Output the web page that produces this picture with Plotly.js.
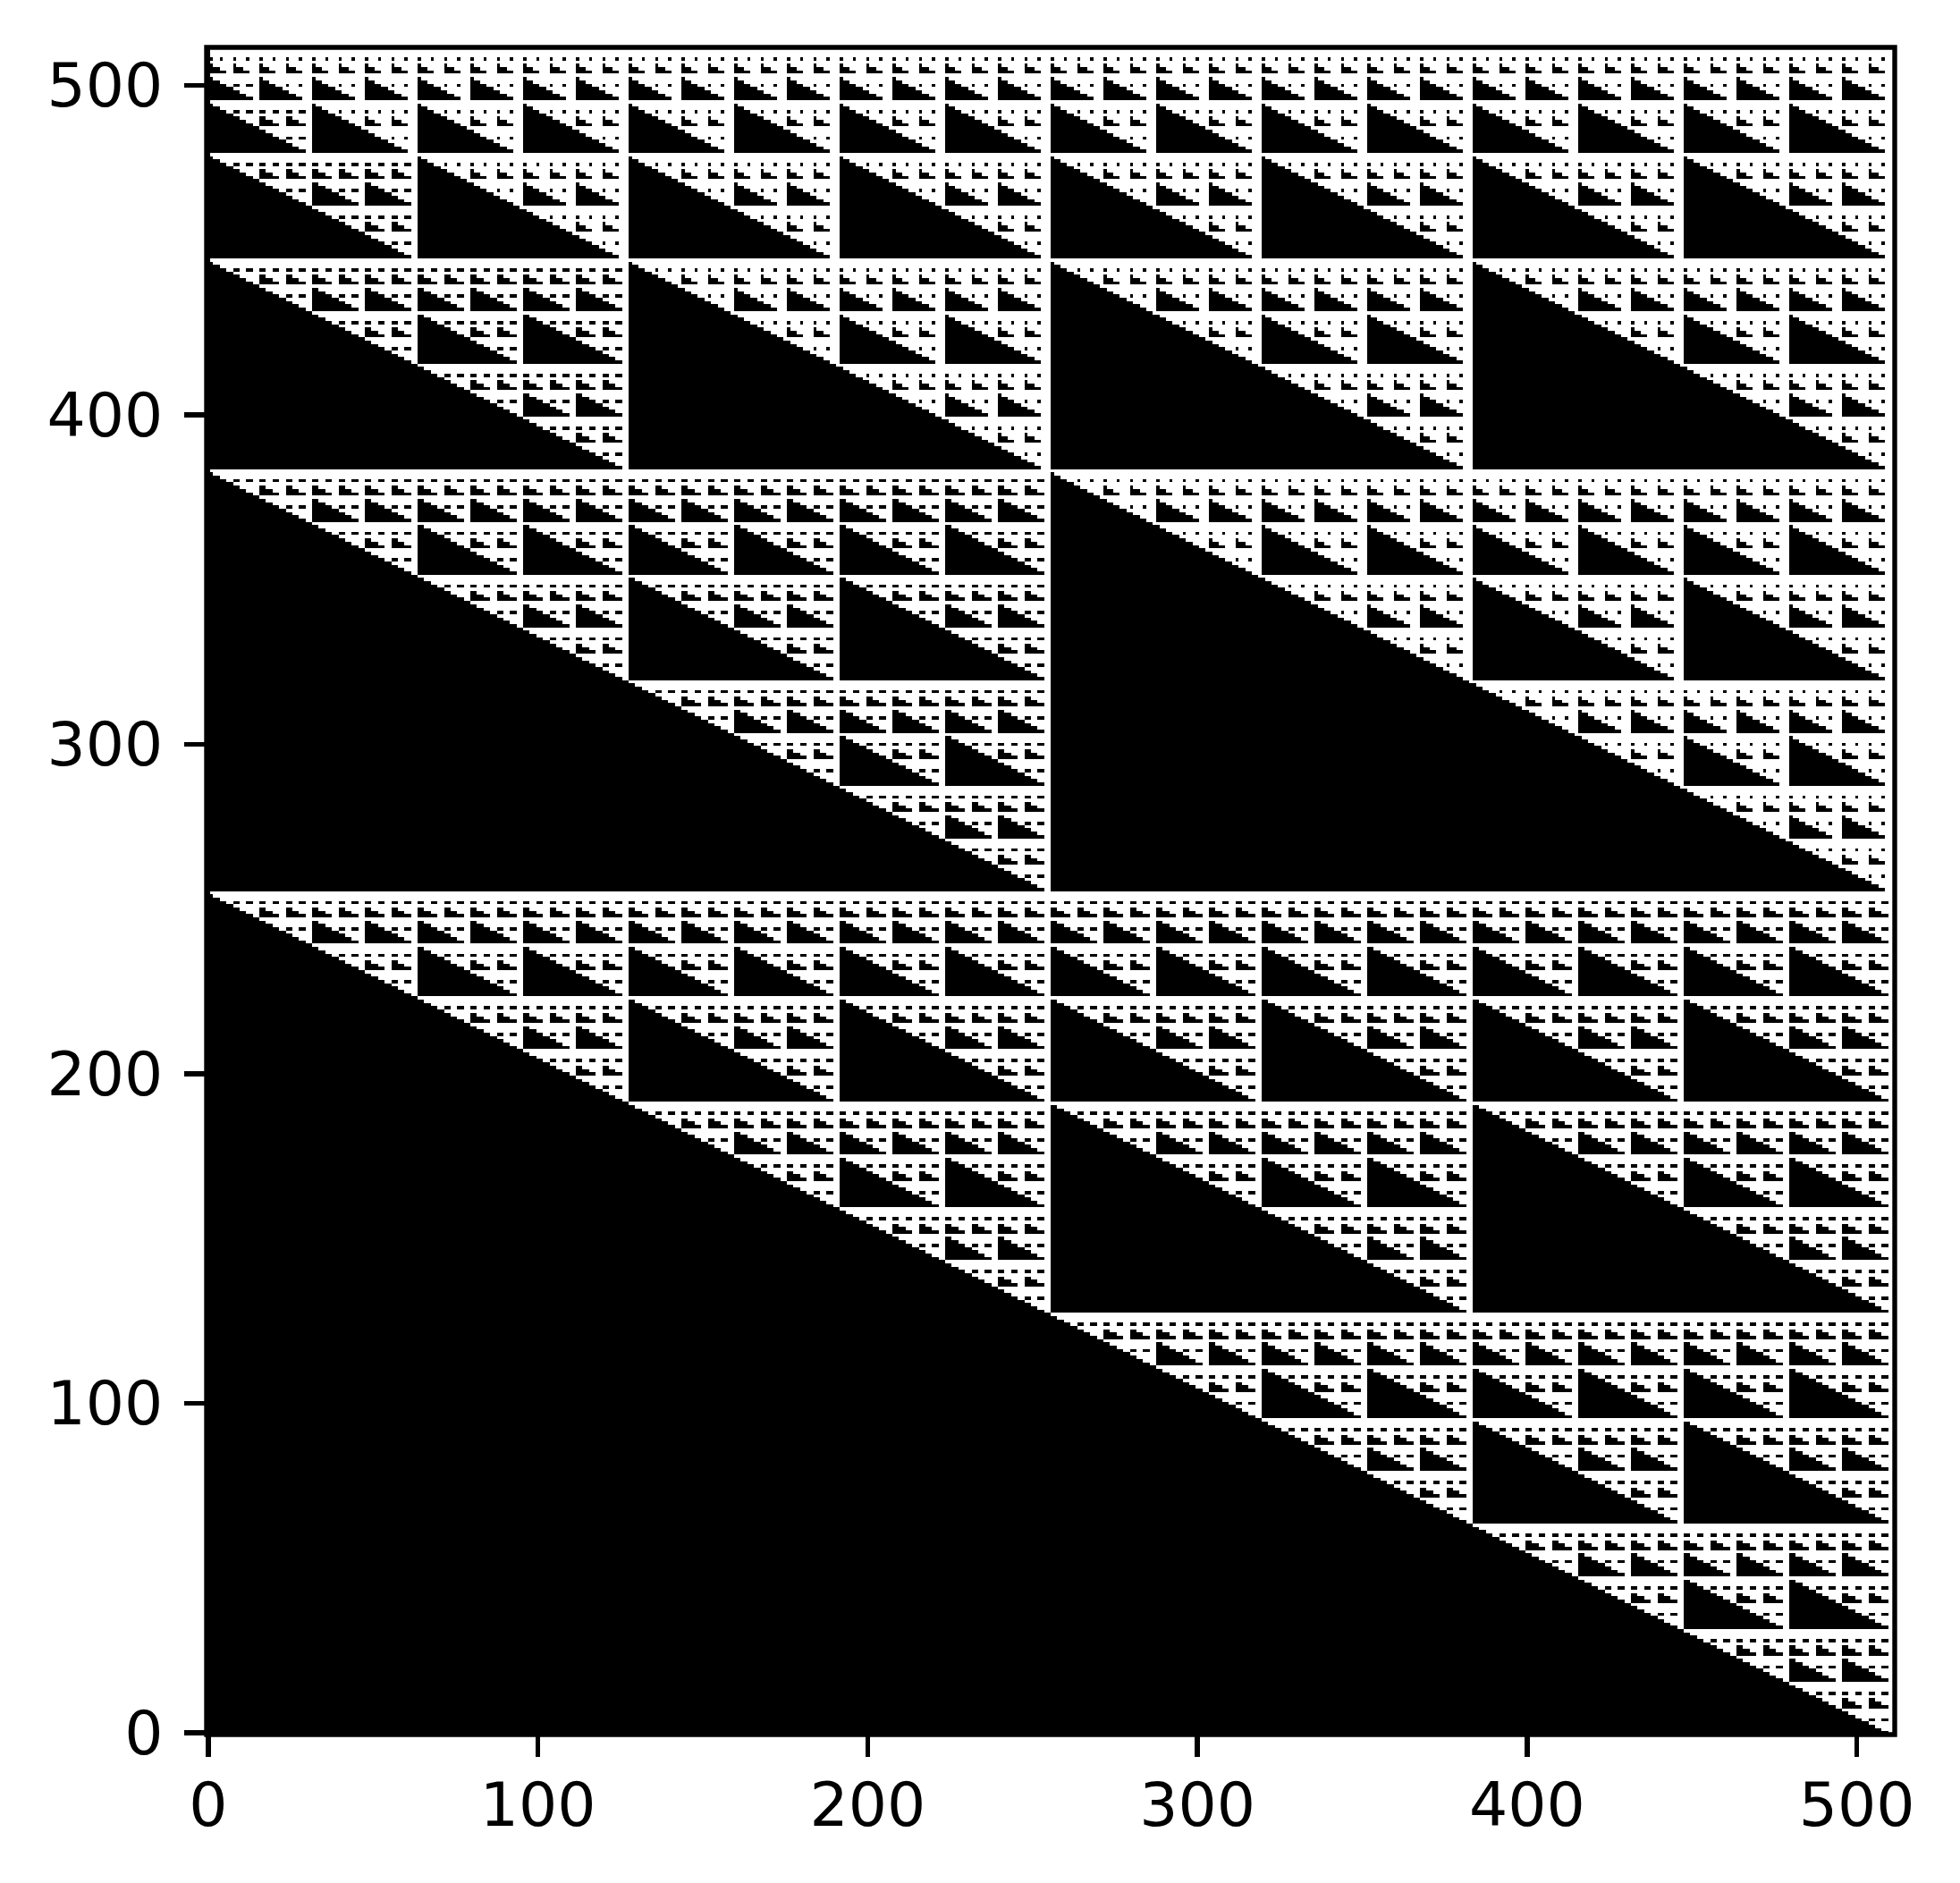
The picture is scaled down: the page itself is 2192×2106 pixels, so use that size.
<!DOCTYPE html>
<html>
<head>
<meta charset="utf-8">
<script src="https://cdn.plot.ly/plotly-3.0.1.min.js"></script>
<style>html,body{margin:0;padding:0;background:#fff}</style>
</head>
<body>
<div id="chart" style="width:2192px;height:2106px"></div>
<script>
var xTickVals = [0, 100, 200, 300, 400, 500];
var yTickVals = [0, 100, 200, 300, 400, 500];
var tickLabels = ["0", "100", "200", "300", "400", "500"];
var gridSize = 512;
var blackValue = 0;
var whiteValue = 1;

// Block rule: a tile of width W has two half-size tiles
// above a black triangle, with a smaller tiled staircase beyond the hypotenuse.
function tile(x, y, W) {
  if (W < 2) return false;
  if (y >= W / 2) return tile(x % (W / 2), y - W / 2, W / 2);
  if (x + 2 * y < W - 2) return true;
  return stair(x, y, W);
}
function stair(x, y, W) {
  if (W < 4) return false;
  if (y >= W / 4) {
    if (x >= W / 2) return tile(x % (W / 4), y - W / 4, W / 4);
    return stair(x, y - W / 4, W / 2);
  }
  return stair(x - W / 2, y, W / 2);
}
function isBlack(x, y) {
  if (x === 0) return true;
  var h = 8;
  while (h >= 0 && (y >> h) & 1) h--;
  if (h < 0) return false;
  var W = 1 << (h + 1);
  var a = tile(x % W, y % W, W);
  if (x < W) return a;
  return a && tile((x + 1) % W, y % W, W);
}

var cells = [];
for (var row = 0; row < gridSize; row++) {
  var line = [];
  for (var col = 0; col < gridSize; col++) {
    line.push(isBlack(col, row) ? blackValue : whiteValue);
  }
  cells.push(line);
}

var tickFont = {family: "DejaVu Sans", size: 68, color: "#000"};
function axis(vals, standoff) {
  return {
    range: [-0.5, 511.5],
    tickmode: "array",
    tickvals: vals,
    ticktext: tickLabels,
    ticks: "outside",
    ticklen: 24,
    tickwidth: 5.4,
    tickcolor: "#000",
    tickfont: tickFont,
    ticklabelstandoff: standoff,
    showgrid: false,
    zeroline: false,
    showline: false,
    automargin: false
  };
}

Plotly.newPlot("chart", [{
  type: "heatmap",
  z: cells,
  zmin: 0,
  zmax: 1,
  zsmooth: false,
  colorscale: [[0, "#000000"], [1, "#ffffff"]],
  showscale: false,
  hoverinfo: "skip"
}], {
  width: 2192,
  height: 2106,
  margin: {l: 230.5, r: 72.5, t: 52.5, b: 166, pad: 0},
  paper_bgcolor: "#fff",
  plot_bgcolor: "#fff",
  xaxis: axis(xTickVals, -5),
  yaxis: axis(yTickVals, 10),
  shapes: [{
    type: "rect", xref: "paper", yref: "paper",
    x0: 0, x1: 1, y0: 0, y1: 1,
    line: {color: "#000", width: 5.4},
    fillcolor: "rgba(0,0,0,0)",
    layer: "above"
  }],
  showlegend: false
}, {staticPlot: true, displayModeBar: false});
</script>
</body>
</html>
